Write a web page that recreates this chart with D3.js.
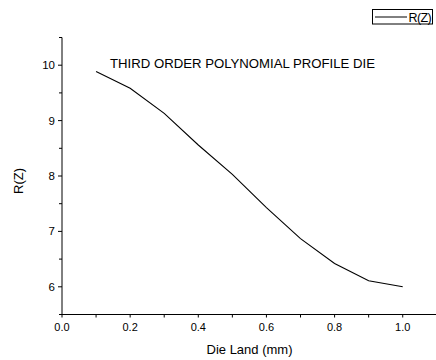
<!DOCTYPE html>
<html><head><meta charset="utf-8">
<script src="https://cdn.jsdelivr.net/npm/d3@7"></script>
<style>body{margin:0;background:#fff}svg{display:block}text{font-family:Arial,"Liberation Sans",sans-serif;fill:#000}</style>
</head><body><svg id="c" width="436" height="360"></svg>
<script>
const dieLand = [0.1,0.2,0.3,0.4,0.5,0.6,0.7,0.8,0.9,1.0];
const rz = [9.885,9.585,9.13,8.56,8.03,7.43,6.87,6.42,6.11,6.0];
const xTicks = [0,0.2,0.4,0.6,0.8,1.0];
const yTicks = [6,7,8,9,10];
const title = "THIRD ORDER POLYNOMIAL PROFILE DIE";
const seriesName = "R(Z)";

const svg = d3.select("#c");
const x = d3.scaleLinear().domain([0,1.1]).range([62,436.8]);
const y = d3.scaleLinear().domain([5.5,10.5]).range([314.5,37.5]);

// x axis
const gx = svg.append("g").attr("transform","translate(0,314.5)");
gx.append("line").attr("x1",62).attr("x2",436).attr("stroke","#000").attr("stroke-width",1);
const xMinor = d3.range(0,11).map(i=>i/10);
gx.selectAll(".xt").data(xMinor).join("line").attr("x1",d=>x(d)).attr("x2",d=>x(d)).attr("y1",0).attr("y2",3).attr("stroke","#000");
gx.selectAll(".xl").data(xTicks).join("text").attr("x",d=>x(d)).attr("y",16).attr("text-anchor","middle").attr("font-size",11).text(d=>d3.format(".1f")(d));

// y axis
const gy = svg.append("g").attr("transform","translate(62,0)");
gy.append("line").attr("y1",y(10.5)).attr("y2",y(5.5)).attr("stroke","#000");
const yMinor = d3.range(0,11).map(i=>5.5+i*0.5);
gy.selectAll(".yt").data(yMinor).join("line").attr("x1",d=>yTicks.includes(d)?-4:-3).attr("x2",0).attr("y1",d=>y(d)).attr("y2",d=>y(d)).attr("stroke","#000");
gy.selectAll(".yl").data(yTicks).join("text").attr("x",-7).attr("y",d=>y(d)+4).attr("text-anchor","end").attr("font-size",11.5).text(d=>d);

// line
svg.append("path").datum(dieLand.map((d,i)=>[d,rz[i]]))
  .attr("d",d3.line().x(d=>x(d[0])).y(d=>y(d[1])))
  .attr("fill","none").attr("stroke","#000").attr("stroke-width",1.1);

// title
svg.append("text").attr("x",242.5).attr("y",67.5).attr("text-anchor","middle").attr("font-size",13).attr("textLength",265).attr("lengthAdjust","spacingAndGlyphs").text(title);

// axis labels
svg.append("text").attr("x",249.5).attr("y",354).attr("text-anchor","middle").attr("font-size",13).text("Die Land (mm)");
svg.append("text").attr("transform","translate(22.5,181) rotate(-90)").attr("text-anchor","middle").attr("font-size",13).text("R(Z)");

// legend
const lg = svg.append("g");
lg.append("rect").attr("x",372.5).attr("y",9.5).attr("width",60).attr("height",14.5).attr("fill","none").attr("stroke","#000");
lg.append("line").attr("x1",375).attr("x2",407).attr("y1",17).attr("y2",17).attr("stroke","#000");
lg.append("text").attr("x",408.5).attr("y",21.5).attr("font-size",12.5).attr("letter-spacing",-0.6).text(seriesName);
</script></body></html>
